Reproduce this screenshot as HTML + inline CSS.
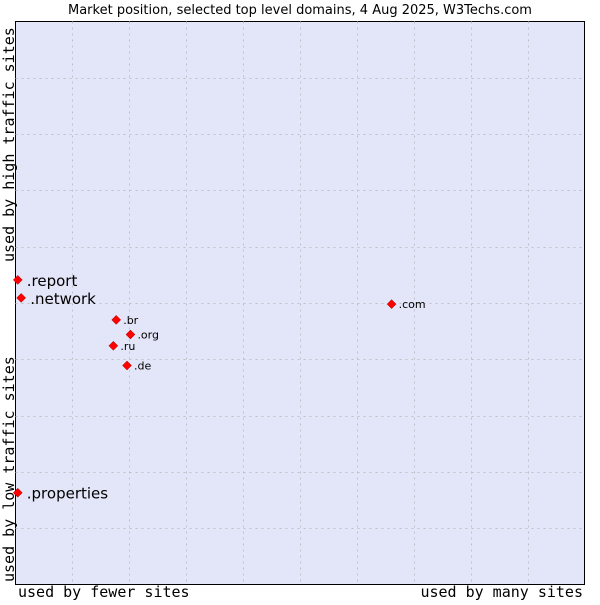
<!DOCTYPE html>
<html><head><meta charset="utf-8"><style>
body{margin:0;background:#fff;width:600px;height:600px;overflow:hidden}
text{font-family:"DejaVu Sans","Liberation Sans",sans-serif}
.mono{font-family:"DejaVu Sans Mono","Liberation Mono",monospace}
</style></head><body>
<svg id="chart" width="600" height="600" xmlns="http://www.w3.org/2000/svg">
<text x="300" y="14" font-size="13" text-anchor="middle" fill="#000">Market position, selected top level domains, 4 Aug 2025, W3Techs.com</text>
<rect x="15.5" y="21.5" width="569" height="563" fill="#e3e5f8" stroke="#000" stroke-width="1"/>
<g id="grid"></g>
<g id="points"></g>
<text class="mono" x="18" y="597" font-size="15">used by fewer sites</text>
<text class="mono" x="583" y="597" font-size="15" text-anchor="end">used by many sites</text>
<text class="mono" transform="translate(14,262) rotate(-90)" font-size="15">used by high traffic sites</text>
<text class="mono" transform="translate(14,582) rotate(-90)" font-size="15">used by low traffic sites</text>
</svg>
<script>
const labels=[".report",".network",".br",".org",".ru",".de",".com",".properties"];
const xs=[0.04,0.1,1.77,2.02,1.72,1.96,6.61,0.04];
const ys=[5.41,5.09,4.70,4.44,4.24,3.89,4.98,1.63];
const big=[true,true,false,false,false,false,false,true];
const L=15.5,R=584.5,T=21.5,B=584.5;
const sx=v=>L+(R-L)*v/10, sy=v=>B-(B-T)*v/10;
const ns="http://www.w3.org/2000/svg";
const g=document.getElementById('grid'), p=document.getElementById('points');
for(let i=1;i<10;i++){
 const v=document.createElementNS(ns,'line');
 
 
 v.setAttribute('x1',Math.round(sx(i))+.5);v.setAttribute('x2',Math.round(sx(i))+.5);
 v.setAttribute('y1',T);v.setAttribute('y2',B);
 v.setAttribute('stroke','#c0c0c8');v.setAttribute('stroke-dasharray','2,4');g.appendChild(v);
 const h=document.createElementNS(ns,'line');
 
 
 h.setAttribute('y1',Math.round(sy(i))+.5);h.setAttribute('y2',Math.round(sy(i))+.5);
 h.setAttribute('x1',L);h.setAttribute('x2',R);
 h.setAttribute('stroke','#c0c0c8');h.setAttribute('stroke-dasharray','2,4');g.appendChild(h);
}
labels.forEach((lab,i)=>{
 const x=sx(xs[i]),y=sy(ys[i]);
 const d=document.createElementNS(ns,'path');
 
 
 d.setAttribute('d',`M${x} ${y-4.5}L${x+4.5} ${y}L${x} ${y+4.5}L${x-4.5} ${y}Z`);
 d.setAttribute('fill','#ff0000');d.setAttribute('stroke','#aa0000');d.setAttribute('stroke-width','0.5');
 p.appendChild(d);
 const t=document.createElementNS(ns,'text');
 
 
 t.setAttribute('x',x+(big[i]?9:7));t.setAttribute('y',y+(big[i]?6:4));
 t.setAttribute('font-size',big[i]?'15':'11');
 t.textContent=lab;p.appendChild(t);
});
</script>
</body></html>
